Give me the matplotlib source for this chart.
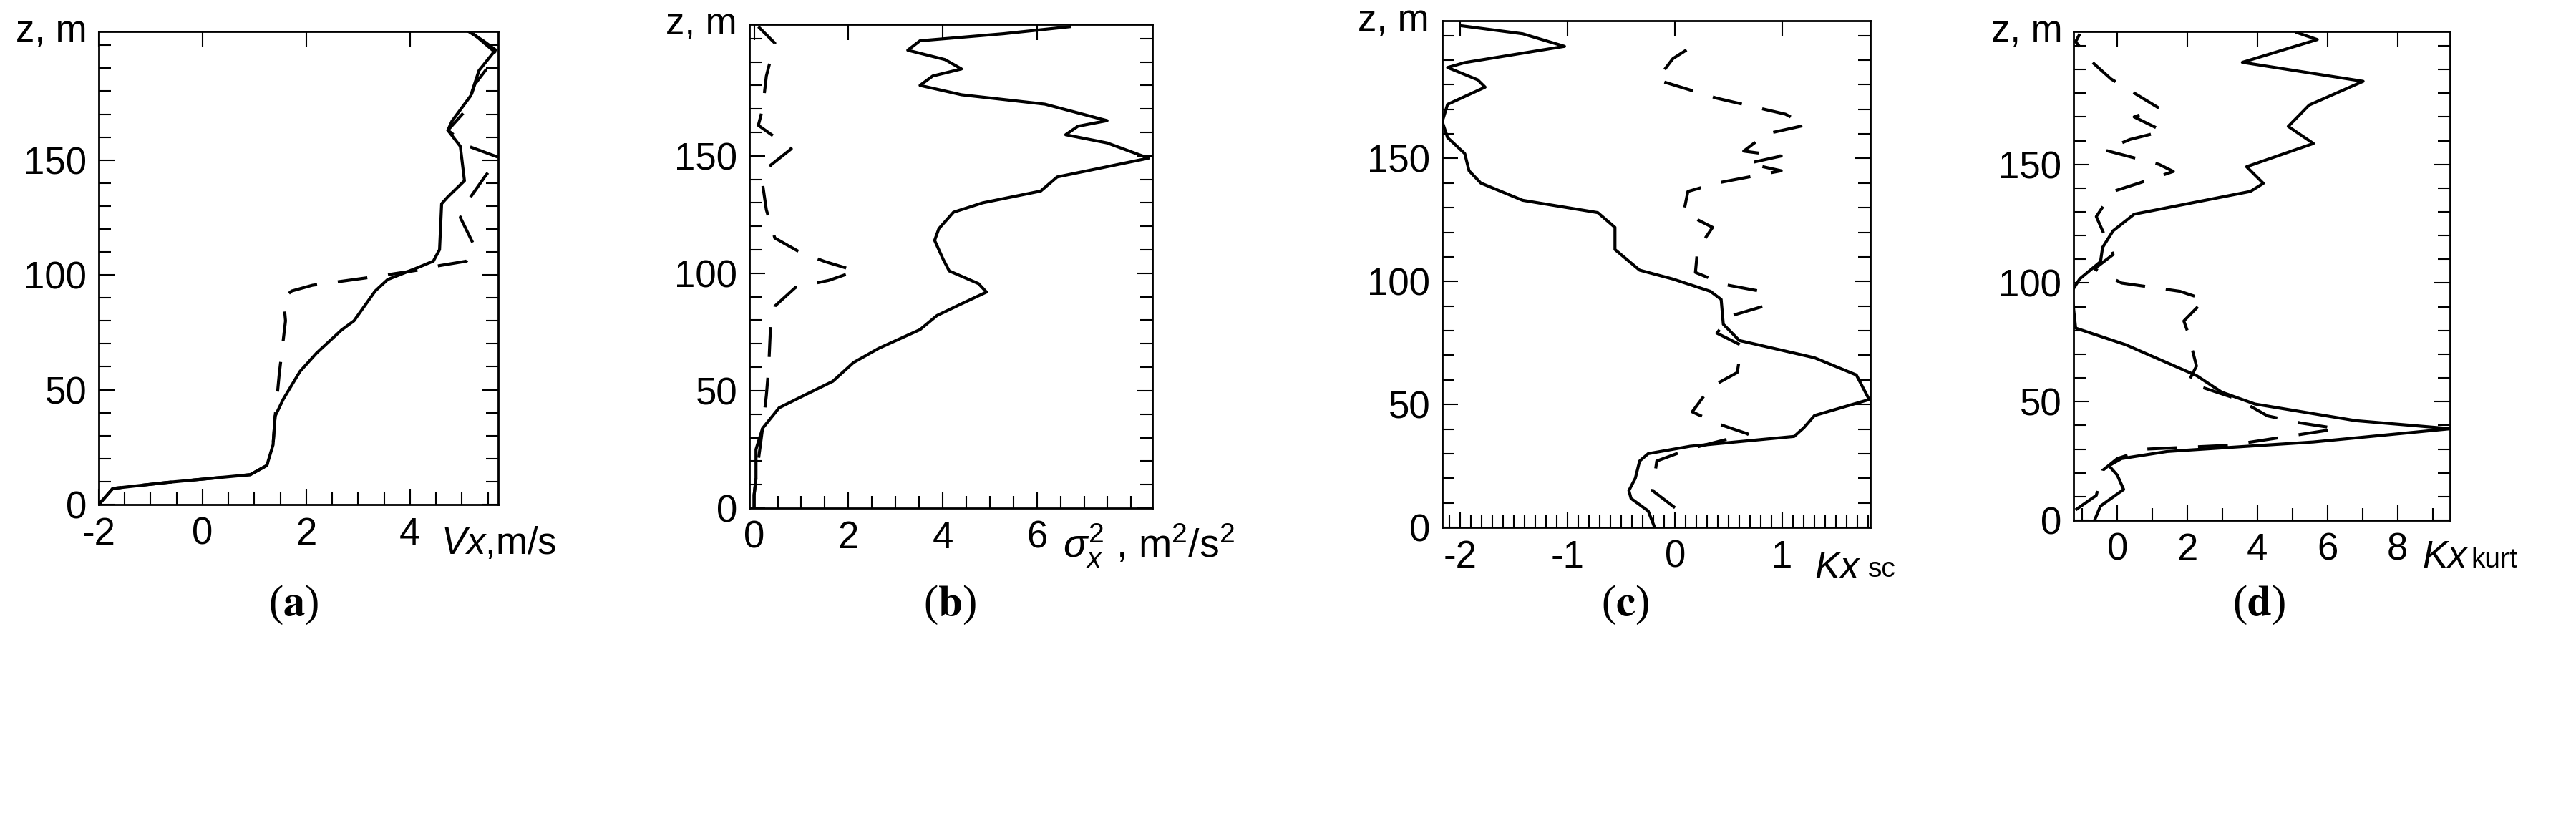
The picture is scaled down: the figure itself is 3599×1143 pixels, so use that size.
import numpy as np
import matplotlib
matplotlib.use("Agg")
import matplotlib.pyplot as plt
from matplotlib.ticker import MultipleLocator

plt.rcParams['font.family'] = ['Liberation Sans', 'DejaVu Sans']
plt.rcParams['mathtext.fontset'] = 'custom'
plt.rcParams['mathtext.it'] = 'Liberation Sans:italic'
plt.rcParams['mathtext.rm'] = 'Liberation Sans'

# ---- data: (value, height z) ----
a_solid_x = [-2, -1.73, -0.69, 0.92, 1.24, 1.36, 1.40, 1.56, 1.88, 2.2, 2.68, 2.92, 3.33, 3.57, 4.13,
             4.45, 4.57, 4.61, 4.73, 5.05, 4.97, 4.73, 4.81, 5.17, 5.33, 5.65, 5.41, 5.13]
a_solid_z = [0, 7, 9.6, 13, 17, 26, 38.5, 46, 58, 66, 76, 80, 93, 98, 103,
             106, 111, 131, 134, 141, 156, 163, 167, 178, 189, 198, 202, 206]
a_dash_x = [-2, -1.73, -0.69, 0.92, 1.24, 1.36, 1.40, 1.44, 1.48, 1.6, 1.56, 1.72, 2.12, 3.25, 4.13,
            4.45, 5.09, 5.25, 5.21, 4.97, 5.17, 5.45, 5.73, 5.13, 4.73, 5.09, 5.25, 5.69, 5.17]
a_dash_z = [0, 7, 9.6, 13, 17, 26, 38.5, 47.5, 57, 80, 90, 93, 95.5, 99, 102,
            103.6, 106, 111, 114, 125, 134, 143, 151, 156, 163, 172, 183, 196, 206]

b_solid_x = [0, 0, 0.04, 0.04, 0.18, 0.53, 1.06, 1.67, 2.11, 2.64, 3.52, 3.88, 4.4, 4.93, 4.76, 4.14,
             4.01, 3.83, 3.92, 4.23, 4.85, 6.08, 6.43, 8.37, 7.49, 6.61, 6.87, 7.49, 6.17, 4.4, 3.52,
             3.79, 4.4, 4.05, 3.26, 3.52, 5.29, 6.7]
b_solid_z = [0, 5.6, 12.7, 25, 34, 42.7, 48, 54, 62, 68, 76, 82, 87, 92, 95.6, 101,
             106, 114, 119, 126, 130, 135, 141, 149, 155.5, 159, 162.6, 165, 172, 176, 180,
             184, 187, 191, 195, 199, 202, 205]
b_dash_x = [0, 0, 0.04, 0.18, 0.26, 0.31, 0.35, 0.44, 0.88, 1.59, 2.16, 1.5, 0.97, 0.44, 0.26,
            0.18, 0.35, 0.79, 0.09, 0.18, 0.26, 0.35, 0.44, 0.09]
b_dash_z = [0, 5.6, 12.7, 34, 48, 60, 78, 86, 94, 97, 101, 105, 109, 115, 127,
            138, 146, 153, 163, 170, 184, 191, 198, 205]

c_solid_x = [-0.19, -0.25, -0.41, -0.43, -0.37, -0.33, -0.25, 0.14, 1.11, 1.2, 1.3, 1.81, 1.69, 1.3,
             0.6, 0.45, 0.43, 0.33, -0.02, -0.33, -0.56, -0.56, -0.72, -1.42, -1.81, -1.92, -1.96,
             -2.12, -2.17, -2.12, -1.77, -1.84, -2.12, -1.96, -1.03, -1.42, -2.0]
c_solid_z = [0, 6.7, 11.8, 15, 20, 27, 30, 33, 37, 40.5, 45.5, 52, 62, 69,
             76, 82.6, 92.7, 96, 101, 104.6, 113, 122, 128, 133, 140, 145, 152,
             158.5, 165, 172, 179, 182, 187, 189, 195.6, 200.7, 204]
c_dash_x = [0.0, -0.21, -0.17, 0.14, 0.68, 0.41, 0.16, 0.33, 0.58, 0.62, 0.39, 0.52, 0.83, 0.8, 0.47,
            0.19, 0.21, 0.35, 0.08, 0.12, 0.39, 0.99, 0.68, 0.99, 0.64, 0.85, 1.22, 1.03, 0.39,
            -0.17, -0.02, 0.21]
c_dash_z = [8, 15, 27, 32, 38, 42, 47, 57, 63, 74, 79, 86, 90, 96, 98.7,
            103.7, 113, 122, 128, 136.6, 140, 145, 148, 151, 153, 160, 163.6, 168, 174.5,
            182, 190.6, 197]

d_solid_x = [-0.65, -0.48, 0.18, 0, -0.24, 0.12, 1.43, 5.6, 9.52, 6.8, 3.93, 2.98, 2.26, 0.24, -1.19,
             -1.3, -1.07, -0.48, -0.42, -0.12, 0.48, 3.8, 4.17, 3.69, 5.6, 4.88, 5.48, 7.02, 3.57,
             5.71, 5.12]
d_solid_z = [0, 6, 13, 19, 23, 26, 29, 33, 38.6, 42, 49, 54, 61, 74, 81,
             96.5, 101.8, 109, 115, 122, 129, 138.6, 142, 149, 158.8, 166, 175, 185, 193,
             202.6, 205.6]
d_dash_x = [-1.19, -0.6, -0.42, 0, 0.83, 3.21, 6.3, 5.24, 4.29, 3.45, 2.02, 2.26, 2.02, 1.9, 2.5,
            1.79, 0.12, -0.65, -0.12, -0.6, -0.12, 0.6, 1.6, 1.19, -0.36, 0.36, 1.31, 0.48, 1.19,
            -0.18, -0.71, -1.19, -1.07]
d_dash_z = [4.4, 10.5, 21, 26, 30, 31.6, 38.6, 41, 44, 51, 58, 65, 79, 84, 93,
            96.5, 100, 106, 112, 128, 138.6, 142, 147, 150, 156, 160.5, 164, 170, 173.7,
            186, 193, 201.7, 205]

z_ticks = [0, 50, 100, 150]

FS = 38
W, H = 3599, 1143
fig = plt.figure(figsize=(W / 100, H / 100), dpi=100)


def make_ax(l, r, t, b):
    return fig.add_axes([l / W, 1 - b / H, (r - l) / W, (b - t) / H])


def style(ax, xlim, xmin, xticks, xlabels):
    ax.set_ylim(0, 206)
    ax.set_xlim(*xlim)
    ax.set_yticks(z_ticks)
    ax.yaxis.set_minor_locator(MultipleLocator(10))
    ax.set_xticks(xticks)
    ax.set_xticklabels(xlabels)
    ax.xaxis.set_minor_locator(MultipleLocator(xmin))
    ax.tick_params(which='both', direction='in', right=True, top=True,
                   labelsize=FS, width=1.5, pad=12)
    ax.tick_params(which='major', length=16)
    ax.tick_params(which='minor', length=12)
    ax.tick_params(axis='x', which='minor', top=False)
    for s in ax.spines.values():
        s.set_linewidth(2)
    ax.text(-0.03, 1.0, 'z, m', transform=ax.transAxes, ha='right', va='center',
            fontsize=FS)


def curves(ax, xs, zs, xd, zd):
    ax.plot(xs, zs, color='black', lw=3, solid_joinstyle='round')
    ax.plot(xd, zd, color='black', lw=3, ls=(0, (10, 7)))


panels = [
    dict(box=(138, 696, 44, 705), lab=410, letter='a'),
    dict(box=(1047, 1610, 34, 710), lab=1327, letter='b'),
    dict(box=(2015, 2613, 29, 737), lab=2271, letter='c'),
    dict(box=(2897, 3423, 44, 727), lab=3156, letter='d'),
]

axs = [make_ax(*p['box']) for p in panels]

ax = axs[0]
curves(ax, a_solid_x, a_solid_z, a_dash_x, a_dash_z)
style(ax, (-2, 5.7), 0.5, [-2, 0, 2, 4], ['-2', '0', '2', '4'])
ax.text(4.6, -0.045, r'$\it{V}\it{x}$' + ',m/s', transform=ax.get_xaxis_transform(),
        ha='left', va='top', fontsize=FS)

ax = axs[1]
curves(ax, b_solid_x, b_solid_z, b_dash_x, b_dash_z)
style(ax, (-0.1, 8.45), 0.5, [0, 2, 4, 6], ['0', '2', '4', '6'])
ax.text(6.55, -0.03, r'$\sigma_x^2$ , m$^2$/s$^2$', transform=ax.get_xaxis_transform(),
        ha='left', va='top', fontsize=FS + 2)

ax = axs[2]
curves(ax, c_solid_x, c_solid_z, c_dash_x, c_dash_z)
style(ax, (-2.17, 1.82), 0.1, [-2, -1, 0, 1], ['-2', '-1', '0', '1'])
ax.text(1.3, -0.045, r'$\it{K}\it{x}$', transform=ax.get_xaxis_transform(),
        ha='left', va='top', fontsize=FS)
ax.text(1.8, -0.058, 'sc', transform=ax.get_xaxis_transform(),
        ha='left', va='top', fontsize=28)

ax = axs[3]
curves(ax, d_solid_x, d_solid_z, d_dash_x, d_dash_z)
style(ax, (-1.25, 9.5), 1, [0, 2, 4, 6, 8], ['0', '2', '4', '6', '8'])
ax.text(8.7, -0.04, r'$\it{K}\it{x}$', transform=ax.get_xaxis_transform(),
        ha='left', va='top', fontsize=FS)
ax.text(10.1, -0.055, 'kurt', transform=ax.get_xaxis_transform(),
        ha='left', va='top', fontsize=28)

for p in panels:
    fig.text(p['lab'] / W, 1 - 845 / H, '(' + r'$\mathbf{' + p['letter'] + '}$' + ')',
             ha='center', va='center', fontsize=44, family='Liberation Serif',
             math_fontfamily='stix')

fig.savefig('out.png', dpi=100)
